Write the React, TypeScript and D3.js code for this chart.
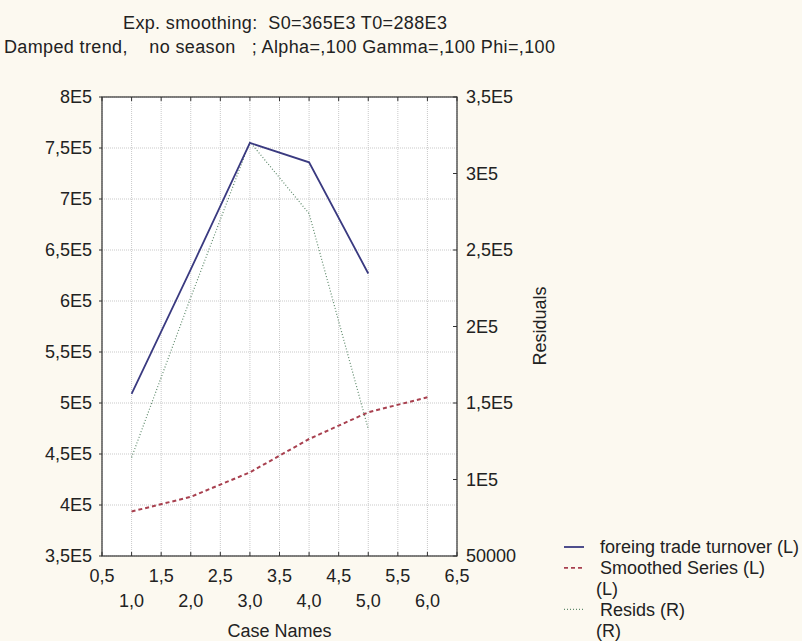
import React from 'react';
import * as d3 from 'd3';

// Case numbers and series
const cases = [1, 2, 3, 4, 5, 6];
const turnover = [509000, 631000, 755000, 736000, 627000]; // left axis, cases 1..5
const smoothed = [393600, 408000, 432000, 464700, 490900, 505600]; // left axis, cases 1..6
const resids = [114400, 219000, 320700, 273800, 133000]; // right axis, cases 1..5

const leftTicks = [350000, 400000, 450000, 500000, 550000, 600000, 650000, 700000, 750000, 800000];
const rightTicks = [50000, 100000, 150000, 200000, 250000, 300000, 350000];
const xHalfTicks = [0.5, 1.5, 2.5, 3.5, 4.5, 5.5, 6.5];
const xWholeTicks = [1, 2, 3, 4, 5, 6];

// legend text rows (the "(L)" / "(R)" lines have no sample)
const legendRows = [
  { label: 'foreing trade turnover (L)', color: '#3a3a80', dash: '', width: 1.8, indent: 600 },
  { label: 'Smoothed Series (L)', color: '#a8404f', dash: '4,3', width: 1.8, indent: 600 },
  { label: '(L)', color: '', dash: '', width: 0, indent: 596 },
  { label: 'Resids (R)', color: '#5f8a6c', dash: '1,2', width: 1.2, indent: 600 },
  { label: '(R)', color: '', dash: '', width: 0, indent: 596 },
];

const W = 802;
const H = 641;
const box = { left: 102, right: 457, top: 97, bottom: 556 };
const font = '"Liberation Sans", Arial, sans-serif';
const fs = 18;
const ink = '#222';

const fmtLeft = (v: number) => `${String(v / 1e5).replace('.', ',')}E5`;
const fmtRight = (v: number) => (v === 50000 ? '50000' : fmtLeft(v));
const fmtX = (v: number) => v.toFixed(1).replace('.', ',');

export default function App() {
  const x = d3.scaleLinear().domain([0.5, 6.5]).range([box.left, box.right]);
  const yL = d3.scaleLinear().domain([350000, 800000]).range([box.bottom, box.top]);
  const yR = d3.scaleLinear().domain([50000, 350000]).range([box.bottom, box.top]);

  const lineL = d3.line<number>().x((_d, i) => x(cases[i])).y((d) => yL(d));
  const lineR = d3.line<number>().x((_d, i) => x(cases[i])).y((d) => yR(d));

  const gridX = d3.range(0.5, 6.51, 0.5);

  return (
    <svg
      width={W}
      height={H}
      style={{ position: 'absolute', left: 0, top: 0, fontFamily: font }}
    >
      <rect width={W} height={H} fill="#fcf9f0" />

      {/* titles */}
      <text x={123} y={29} fontSize={fs} fill={ink} textLength={324} lengthAdjust="spacing"
        style={{ whiteSpace: 'pre' }}>
        {'Exp. smoothing:  S0=365E3 T0=288E3'}
      </text>
      <text x={4} y={53} fontSize={fs} fill={ink} textLength={551} lengthAdjust="spacing"
        style={{ whiteSpace: 'pre' }}>
        {'Damped trend,    no season   ; Alpha=,100 Gamma=,100 Phi=,100'}
      </text>

      {/* plot area */}
      <rect x={box.left} y={box.top} width={box.right - box.left} height={box.bottom - box.top} fill="#ffffff" />

      {/* grid */}
      {gridX.map((g) => (
        <line key={`gx${g}`} x1={x(g)} x2={x(g)} y1={box.top} y2={box.bottom}
          stroke="#c9c9c9" strokeWidth={1} strokeDasharray="1,1" />
      ))}
      {leftTicks.map((t) => (
        <line key={`gy${t}`} x1={box.left} x2={box.right} y1={yL(t)} y2={yL(t)}
          stroke="#c9c9c9" strokeWidth={1} strokeDasharray="1,1" />
      ))}

      {/* series */}
      <path d={lineL(smoothed) || ''} fill="none" stroke="#a8404f" strokeWidth={2} strokeDasharray="4,3" />
      <path d={lineR(resids) || ''} fill="none" stroke="#5f8a6c" strokeWidth={1.2} strokeDasharray="1,2" />
      <path d={lineL(turnover) || ''} fill="none" stroke="#3a3a80" strokeWidth={1.8} />

      {/* frame */}
      <rect x={box.left} y={box.top} width={box.right - box.left} height={box.bottom - box.top}
        fill="none" stroke="#333" strokeWidth={1.2} />

      {/* x ticks top & bottom */}
      {gridX.map((g) => (
        <g key={`tx${g}`}>
          <line x1={x(g)} x2={x(g)} y1={box.top} y2={box.top + 4} stroke="#333" />
          <line x1={x(g)} x2={x(g)} y1={box.bottom} y2={box.bottom - 4} stroke="#333" />
        </g>
      ))}

      {/* left axis */}
      {leftTicks.map((t) => (
        <g key={`l${t}`}>
          <line x1={box.left - 3} x2={box.left} y1={yL(t)} y2={yL(t)} stroke="#333" />
          <text x={92} y={yL(t)} dy="0.35em" textAnchor="end" fontSize={fs} fill={ink}>
            {fmtLeft(t)}
          </text>
        </g>
      ))}

      {/* right axis */}
      {rightTicks.map((t) => (
        <g key={`r${t}`}>
          <line x1={box.right} x2={box.right - 4} y1={yR(t)} y2={yR(t)} stroke="#333" />
          <text x={466} y={yR(t)} dy="0.35em" textAnchor="start" fontSize={fs} fill={ink}>
            {fmtRight(t)}
          </text>
        </g>
      ))}
      <text transform="translate(546, 326) rotate(-90)" textAnchor="middle" fontSize={fs} fill={ink}>
        Residuals
      </text>

      {/* x tick labels, staggered */}
      {xHalfTicks.map((t) => (
        <text key={`xh${t}`} x={x(t)} y={582} textAnchor="middle" fontSize={fs} fill={ink}>
          {fmtX(t)}
        </text>
      ))}
      {xWholeTicks.map((t) => (
        <text key={`xw${t}`} x={x(t)} y={607} textAnchor="middle" fontSize={fs} fill={ink}>
          {fmtX(t)}
        </text>
      ))}
      <text x={x(3.5)} y={637} textAnchor="middle" fontSize={fs} fill={ink}>
        Case Names
      </text>

      {/* legend */}
      {legendRows.map((r, i) => {
        const y0 = 547 + i * 20.8;
        return (
          <g key={`${r.label}${i}`}>
            {r.color && (
              <line x1={564} x2={584} y1={y0} y2={y0} stroke={r.color}
                strokeWidth={r.width} strokeDasharray={r.dash || undefined} />
            )}
            <text x={r.indent} y={y0} dy="0.35em" fontSize={fs} fill={ink}>
              {r.label}
            </text>
          </g>
        );
      })}
    </svg>
  );
}
